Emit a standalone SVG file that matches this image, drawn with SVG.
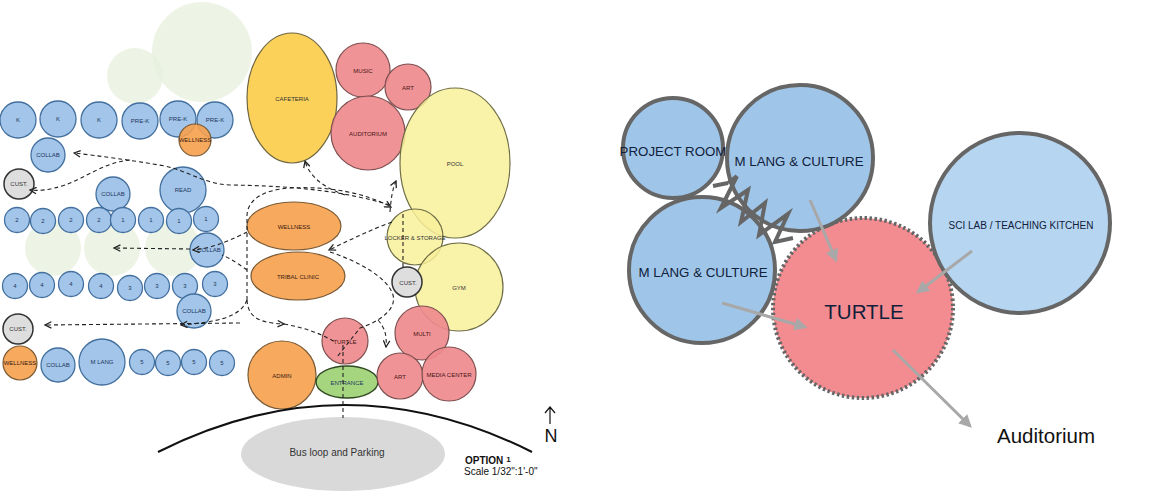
<svg xmlns="http://www.w3.org/2000/svg" width="1152" height="499" viewBox="0 0 1152 499">
<defs>
<style>
.b{fill:#a3c5e9;stroke:#43709e;stroke-width:1.3}
.o{fill:#f6a04d;fill-opacity:.9;stroke:#7a5a35;stroke-width:1.2}
.y{fill:#f8f09a;fill-opacity:.85;stroke:#6f6d45;stroke-width:1.2}
.cy{fill:#fbd15a;stroke:#6f6540;stroke-width:1.2}
.p{fill:#ef8a8e;fill-opacity:.92;stroke:#7f5050;stroke-width:1.2}
.g{fill:#a6d57f;stroke:#2f4a22;stroke-width:1.4}
.c{fill:#dedede;stroke:#333;stroke-width:1.5}
.f{fill:#e6efdc;opacity:.7}
.t{font-family:"Liberation Sans",Arial,sans-serif;font-size:6px;text-anchor:middle;fill:#1c3660}
.tk{fill:#3a2010}
.tp{fill:#4a1515}
.ty{fill:#333}
.d{fill:none;stroke:#222;stroke-width:1.1;stroke-dasharray:4 3;marker-end:url(#ah)}
.dn{fill:none;stroke:#222;stroke-width:1.1;stroke-dasharray:4 3}
.rb{fill:#9fc6e9;stroke:#666;stroke-width:4}
.rl{fill:#b5d5f1;stroke:#666;stroke-width:4}
.rt{font-family:"Liberation Sans",Arial,sans-serif;text-anchor:middle;fill:#10203a}
.ga{fill:none;stroke:#a8a8a8;stroke-width:3;marker-end:url(#gh)}
</style>
<marker id="ah" viewBox="0 0 10 10" refX="9" refY="5" markerWidth="8" markerHeight="8" markerUnits="userSpaceOnUse" orient="auto"><path d="M1 1 L9 5 L1 9" fill="none" stroke="#222" stroke-width="1.6"/></marker>
<marker id="gh" viewBox="0 0 10 10" refX="8" refY="5" markerWidth="13" markerHeight="13" markerUnits="userSpaceOnUse" orient="auto"><path d="M0 0 L10 5 L0 10 Z" fill="#a8a8a8"/></marker>
</defs>
<rect width="1152" height="499" fill="#fff"/>

<g id="bg-green">
<circle class="f" cx="202" cy="52" r="50"/>
<circle class="f" cx="135" cy="76" r="28"/>
<circle class="f" cx="53" cy="248" r="28"/>
<circle class="f" cx="112" cy="248" r="28"/>
<circle class="f" cx="173" cy="248" r="28"/>
</g>

<g id="k1"><circle class="b" cx="18" cy="120" r="18"/><text class="t" x="18" y="122">K</text></g>
<g id="k2"><circle class="b" cx="58" cy="119" r="18"/><text class="t" x="58" y="121">K</text></g>
<g id="k3"><circle class="b" cx="99" cy="120" r="18"/><text class="t" x="99" y="122">K</text></g>
<g id="prek1"><circle class="b" cx="140" cy="121" r="18"/><text class="t" x="140" y="123">PRE-K</text></g>
<g id="prek2"><circle class="b" cx="178" cy="119" r="18"/><text class="t" x="178" y="121">PRE-K</text></g>
<g id="prek3"><circle class="b" cx="215" cy="120" r="18"/><text class="t" x="215" y="122">PRE-K</text></g>
<g id="wellness1"><circle class="o" cx="195" cy="140" r="16"/><text class="t tk" x="195" y="142">WELLNESS</text></g>
<g id="collab1"><circle class="b" cx="48" cy="155" r="17"/><text class="t" x="48" y="157">COLLAB</text></g>
<g id="cust1"><circle class="c" cx="19" cy="184" r="15"/><text class="t ty" x="19" y="186">CUST.</text></g>
<g id="collab2"><circle class="b" cx="113" cy="194" r="17"/><text class="t" x="113" y="196">COLLAB</text></g>
<g id="read"><circle class="b" cx="183" cy="190" r="23"/><text class="t" x="183" y="192">READ</text></g>

<g id="r2a"><circle class="b" cx="17" cy="220" r="12.5"/><text class="t" x="17" y="222">2</text></g>
<g id="r2b"><circle class="b" cx="43" cy="221" r="12.5"/><text class="t" x="43" y="223">2</text></g>
<g id="r2c"><circle class="b" cx="71" cy="220" r="12.5"/><text class="t" x="71" y="222">2</text></g>
<g id="r2d"><circle class="b" cx="99" cy="220" r="12.5"/><text class="t" x="99" y="222">2</text></g>
<g id="r1a"><circle class="b" cx="123" cy="220" r="12.5"/><text class="t" x="123" y="222">1</text></g>
<g id="r1b"><circle class="b" cx="151" cy="220" r="12.5"/><text class="t" x="151" y="222">1</text></g>
<g id="r1c"><circle class="b" cx="179" cy="221" r="12.5"/><text class="t" x="179" y="223">1</text></g>
<g id="r1d"><circle class="b" cx="206" cy="219" r="12.5"/><text class="t" x="206" y="221">1</text></g>
<g id="collab3"><circle class="b" cx="207" cy="250" r="17"/><text class="t" x="209" y="252">COLLAB</text></g>

<g id="r4a"><circle class="b" cx="15" cy="286" r="12.5"/><text class="t" x="15" y="288">4</text></g>
<g id="r4b"><circle class="b" cx="42" cy="285" r="12.5"/><text class="t" x="42" y="287">4</text></g>
<g id="r4c"><circle class="b" cx="71" cy="284" r="12.5"/><text class="t" x="71" y="286">4</text></g>
<g id="r4d"><circle class="b" cx="101" cy="286" r="12.5"/><text class="t" x="101" y="288">4</text></g>
<g id="r3a"><circle class="b" cx="130" cy="288" r="12.5"/><text class="t" x="130" y="290">3</text></g>
<g id="r3b"><circle class="b" cx="157" cy="286" r="12.5"/><text class="t" x="157" y="288">3</text></g>
<g id="r3c"><circle class="b" cx="185" cy="286" r="12.5"/><text class="t" x="185" y="288">3</text></g>
<g id="r3d"><circle class="b" cx="215" cy="284" r="12.5"/><text class="t" x="215" y="286">3</text></g>
<g id="collab4"><circle class="b" cx="194" cy="311" r="17"/><text class="t" x="194" y="313">COLLAB</text></g>
<g id="cust2"><circle class="c" cx="18" cy="329" r="15"/><text class="t ty" x="18" y="331">CUST.</text></g>

<g id="wellness2"><circle class="o" cx="20" cy="363" r="17"/><text class="t tk" x="20" y="365">WELLNESS</text></g>
<g id="collab5"><circle class="b" cx="58" cy="365" r="17"/><text class="t" x="58" y="367">COLLAB</text></g>
<g id="mlang"><circle class="b" cx="102" cy="362" r="23"/><text class="t" x="102" y="364">M LANG</text></g>
<g id="r5a"><circle class="b" cx="142" cy="362" r="12.5"/><text class="t" x="142" y="364">5</text></g>
<g id="r5b"><circle class="b" cx="168" cy="363" r="12.5"/><text class="t" x="168" y="365">5</text></g>
<g id="r5c"><circle class="b" cx="194" cy="362" r="12.5"/><text class="t" x="194" y="364">5</text></g>
<g id="r5d"><circle class="b" cx="222" cy="363" r="12.5"/><text class="t" x="222" y="365">5</text></g>

<g id="cafeteria"><ellipse class="cy" cx="292" cy="98" rx="45" ry="65"/><text class="t ty" x="292" y="101">CAFETERIA</text></g>
<g id="music"><circle class="p" cx="363" cy="70" r="27"/><text class="t tp" x="363" y="73">MUSIC</text></g>
<g id="art1"><circle class="p" cx="408" cy="87" r="23"/><text class="t tp" x="408" y="90">ART</text></g>
<g id="auditorium"><circle class="p" cx="368" cy="133" r="37"/><text class="t tp" x="368" y="136">AUDITORIUM</text></g>
<g id="pool"><ellipse class="y" cx="455" cy="163" rx="55" ry="75"/><text class="t ty" x="455" y="166">POOL</text></g>
<g id="wellness3"><ellipse class="o" cx="294" cy="226" rx="47" ry="24"/><text class="t tk" x="294" y="229">WELLNESS</text></g>
<g id="tribal"><ellipse class="o" cx="298" cy="276" rx="47" ry="24"/><text class="t tk" x="298" y="279">TRIBAL CLINIC</text></g>
<g id="locker"><circle class="y" cx="415" cy="237" r="28"/><text class="t ty" x="415" y="240">LOCKER &amp; STORAGE</text></g>
<g id="gym"><circle class="y" cx="459" cy="287" r="44"/><text class="t ty" x="459" y="290">GYM</text></g>
<g id="cust3"><circle class="c" cx="407" cy="282" r="15"/><text class="t ty" x="408" y="285">CUST.</text></g>
<g id="multi"><circle class="p" cx="422" cy="333" r="27"/><text class="t tp" x="422" y="336">MULTI</text></g>
<g id="turtle1"><circle class="p" cx="345" cy="341" r="23"/><text class="t tp" x="345" y="344">TURTLE</text></g>
<g id="admin"><circle class="o" cx="282" cy="375" r="34"/><text class="t tk" x="282" y="378">ADMIN</text></g>
<g id="entrance"><ellipse class="g" cx="347" cy="382" rx="31" ry="16"/><text class="t" x="347" y="385" fill="#234020">ENTRANCE</text></g>
<g id="art2"><circle class="p" cx="400" cy="376" r="23"/><text class="t tp" x="400" y="379">ART</text></g>
<g id="media"><circle class="p" cx="449" cy="374" r="27"/><text class="t tp" x="449" y="377">MEDIA CENTER</text></g>

<g id="site">
<ellipse cx="343" cy="454" rx="102" ry="37" fill="#d9d9d9"/>
<text x="337" y="456" font-family="'Liberation Sans',Arial,sans-serif" font-size="10" text-anchor="middle" fill="#333">Bus loop and Parking</text>
<path d="M158 452 Q345 358 532 452" fill="none" stroke="#111" stroke-width="2"/>
<path d="M550 424 L550 407 M545 413 L550 407 L555 413" fill="none" stroke="#111" stroke-width="1.2"/>
<text x="551" y="442" font-family="'Liberation Sans',Arial,sans-serif" font-size="18" text-anchor="middle" fill="#111">N</text>
<text x="465" y="464" font-family="'Liberation Sans',Arial,sans-serif" font-size="10" font-weight="bold" fill="#111">OPTION <tspan font-size="8" dy="-2">1</tspan></text>
<text x="464" y="475" font-family="'Liberation Sans',Arial,sans-serif" font-size="10" fill="#111">Scale 1/32":1'-0"</text>
</g>

<g id="right-nodes">
<g id="turtle2"><circle cx="863" cy="308" r="90" fill="#f38c90" stroke="#666" stroke-width="4" stroke-dasharray="2.5 2.5"/><text class="rt" x="864" y="319" font-size="20.5" fill="#1a0a0a">TURTLE</text></g>
<g id="project-room"><circle class="rb" cx="673" cy="148" r="50"/><text class="rt" x="673" y="156" font-size="13.3">PROJECT ROOM</text></g>
<g id="mlang-top"><circle class="rb" cx="800" cy="158" r="73"/><text class="rt" x="799" y="166" font-size="13.3">M LANG &amp; CULTURE</text></g>
<g id="mlang-low"><circle class="rb" cx="702" cy="270" r="73"/><text class="rt" x="703" y="277" font-size="13.3">M LANG &amp; CULTURE</text></g>
<g id="scilab"><circle class="rl" cx="1020" cy="223" r="90"/><text class="rt" x="1021" y="229" font-size="10">SCI LAB / TEACHING KITCHEN</text></g>
<text x="997" y="443" font-family="'Liberation Sans',Arial,sans-serif" font-size="20.5" fill="#111">Auditorium</text>
</g>

<g id="connectors">
<path class="d" d="M390 205 C340 190 290 186 230 185 C205 184 190 172 165 166 C130 160 100 156 74 153"/>
<path class="d" d="M130 160 C105 162 85 178 65 185 C50 190 40 191 30 190"/>
<path class="d" d="M390 212 C391 200 392 190 396 181"/>
<path class="d" d="M345 195 C325 188 310 178 305 161"/>
<path class="d" d="M247 300 L247 215 C248 200 262 190 290 188 C330 186 365 193 391 207"/>
<path class="d" d="M247 232 C235 238 215 248 193 250"/>
<path class="d" d="M190 249 L114 248"/>
<path class="dn" d="M247 270 C240 265 230 258 222 255"/>
<path class="d" d="M247 300 C248 318 260 323 284 324"/>
<path class="d" d="M247 300 C240 318 215 322 181 325"/>
<path class="d" d="M240 323 L45 325"/>
<path class="d" d="M392 222 C370 230 350 240 329 250"/>
<path class="dn" d="M330 252 C360 262 388 278 393 295 C397 310 378 322 360 328 L337 357"/>
<path class="d" d="M378 320 C385 328 387 336 386 347"/>
<path class="dn" d="M403 214 L403 268"/>
<path class="dn" d="M284 324 C305 328 320 333 335 342"/>
<path class="dn" d="M343 345 L343 418"/>
<path d="M713 186 L728 183 M737 176 L721 208 L748 190 L741 222 L765 203 L759 235 L788 214 L775 242 L793 238 M737 176 L728 183" fill="none" stroke="#666" stroke-width="4" stroke-linejoin="miter"/>
<path class="ga" d="M810 200 L836 260"/>
<path class="ga" d="M972 251 L918 292"/>
<path class="ga" d="M722 303 L805 327"/>
<path class="ga" d="M893 350 L970 426"/>
</g>
</svg>
